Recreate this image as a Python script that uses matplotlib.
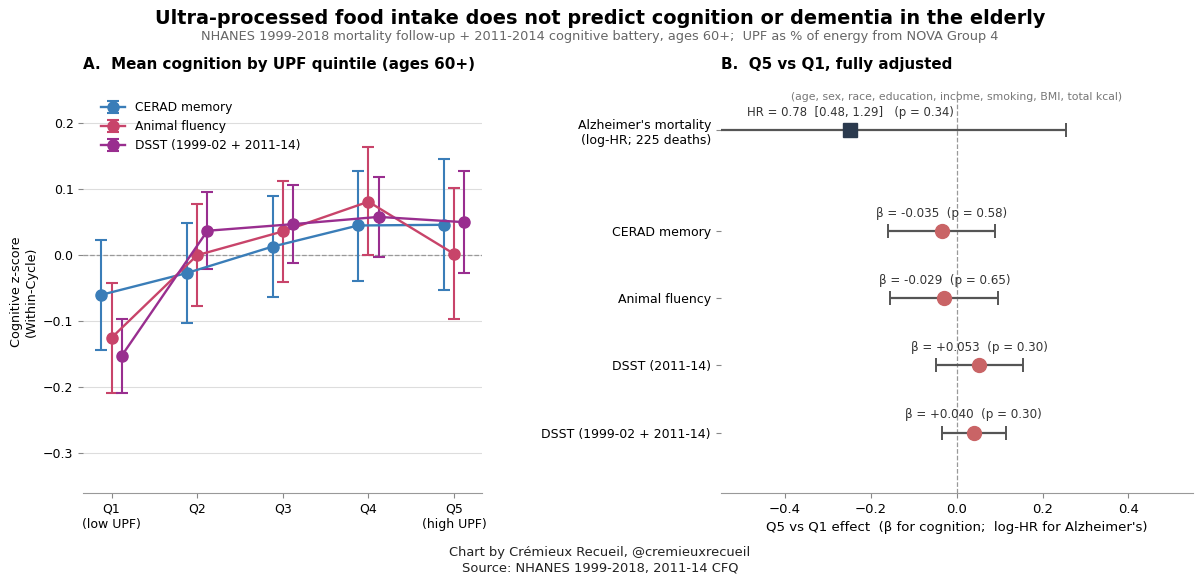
import numpy as np
import matplotlib
matplotlib.use('Agg')
import matplotlib.pyplot as plt

# Panel A: mean cognition z-score by UPF quintile (mean, lower, upper)
quintiles = ['Q1\n(low UPF)', 'Q2', 'Q3', 'Q4', 'Q5\n(high UPF)']
cerad_mean = [-0.060, -0.027, 0.013, 0.045, 0.046]
cerad_lo = [-0.143, -0.102, -0.063, -0.039, -0.053]
cerad_hi = [0.023, 0.049, 0.090, 0.128, 0.146]
animal_mean = [-0.125, 0.000, 0.036, 0.081, 0.002]
animal_lo = [-0.208, -0.077, -0.041, 0.000, -0.097]
animal_hi = [-0.042, 0.077, 0.113, 0.164, 0.101]
dsst_mean = [-0.152, 0.037, 0.047, 0.058, 0.050]
dsst_lo = [-0.209, -0.021, -0.012, -0.003, -0.027]
dsst_hi = [-0.096, 0.095, 0.107, 0.119, 0.127]

# Panel B: Q5 vs Q1 effects
alz_label = "Alzheimer's mortality\n(log-HR; 225 deaths)"
alz_hr, alz_hr_lo, alz_hr_hi, alz_p = 0.78, 0.48, 1.29, 0.34
cog_labels = ['CERAD memory', 'Animal fluency', 'DSST (2011-14)', 'DSST (1999-02 + 2011-14)']
cog_beta = [-0.035, -0.029, 0.053, 0.040]
cog_lo = [-0.160, -0.155, -0.048, -0.035]
cog_hi = [0.090, 0.097, 0.154, 0.115]
cog_p = [0.58, 0.65, 0.30, 0.30]

fig = plt.figure(figsize=(12, 5.84), dpi=100)
ax1 = fig.add_axes([0.0694, 0.1558, 0.3325, 0.690])
ax2 = fig.add_axes([0.6006, 0.1558, 0.3933, 0.690])

# ---- Panel A ----
series = [
    ('CERAD memory', cerad_mean, cerad_lo, cerad_hi, '#3a7db8', -0.12),
    ('Animal fluency', animal_mean, animal_lo, animal_hi, '#c8446a', 0.0),
    ('DSST (1999-02 + 2011-14)', dsst_mean, dsst_lo, dsst_hi, '#992e8f', 0.12),
]
x = np.arange(len(quintiles))
for name, m, lo, hi, col, off in series:
    m = np.array(m)
    yerr = [m - np.array(lo), np.array(hi) - m]
    ax1.errorbar(x + off, m, yerr=yerr, color=col, marker='o', ms=8, lw=1.7,
                 elinewidth=1.5, capsize=4, capthick=1.5, label=name, zorder=3)

ax1.axhline(0, color='#999999', ls='--', lw=0.9, zorder=1)
ax1.set_ylim(-0.36, 0.25)
ax1.set_xlim(-0.33, 4.33)
ax1.set_yticks([-0.3, -0.2, -0.1, 0.0, 0.1, 0.2])
ax1.set_xticks(x)
ax1.set_xticklabels(quintiles)
ax1.grid(axis='y', color='#dddddd', lw=0.8, zorder=0)
ax1.set_axisbelow(True)
for s in ['left', 'right', 'top']:
    ax1.spines[s].set_visible(False)
ax1.spines['bottom'].set_color('#999999')
ax1.tick_params(axis='both', labelsize=9, color='#888888')
ax1.set_ylabel('Cognitive z-score\n(Within-Cycle)', fontsize=9.2)
ax1.set_title('A.  Mean cognition by UPF quintile (ages 60+)', loc='left',
              fontsize=10.9, fontweight='bold', pad=15)
ax1.legend(loc='upper left', bbox_to_anchor=(0.031, 0.985), borderaxespad=0,
           frameon=False, fontsize=8.8, handlelength=2.0)

# ---- Panel B ----
alz_y = 0
cog_y = [1.5, 2.5, 3.5, 4.5]
alz_log = np.log(alz_hr)
ax2.errorbar([alz_log], [alz_y],
             xerr=[[alz_log - np.log(alz_hr_lo)], [np.log(alz_hr_hi) - alz_log]],
             fmt='s', ms=10.5, color='#2b3a4e', ecolor='#555555', elinewidth=1.6,
             capsize=5, capthick=1.4, zorder=3)
ax2.annotate(f'HR = {alz_hr:.2f}  [{alz_hr_lo:.2f}, {alz_hr_hi:.2f}]   (p = {alz_p:.2f})',
             (alz_log, alz_y), xytext=(0, 8), textcoords='offset points',
             ha='center', va='bottom', fontsize=8.4, color='#333333')

for yy, b, lo, hi, p in zip(cog_y, cog_beta, cog_lo, cog_hi, cog_p):
    ax2.errorbar([b], [yy], xerr=[[b - lo], [hi - b]], fmt='o', ms=10,
                 color='#c96466', ecolor='#555555', elinewidth=1.6,
                 capsize=5, capthick=1.4, zorder=3)
    ax2.annotate(f'β = {b:+.3f}  (p = {p:.2f})',
                 (b, yy), xytext=(0, 8), textcoords='offset points',
                 ha='center', va='bottom', fontsize=8.6, color='#333333')

ax2.axvline(0, color='#999999', ls='--', lw=0.9, zorder=1)
ax2.set_xlim(-0.55, 0.55)
ax2.set_ylim(5.4, -0.6)
ax2.set_yticks([alz_y] + cog_y)
ax2.set_yticklabels([alz_label] + cog_labels)
ax2.set_xticks([-0.4, -0.2, 0.0, 0.2, 0.4])
for s in ['left', 'right', 'top']:
    ax2.spines[s].set_visible(False)
ax2.spines['bottom'].set_color('#999999')
ax2.tick_params(axis='both', labelsize=9, color='#888888')
ax2.tick_params(axis='x', labelsize=9.5)
ax2.set_xlabel("Q5 vs Q1 effect  (β for cognition;  log-HR for Alzheimer's)", fontsize=9.5)
ax2.set_title('B.  Q5 vs Q1, fully adjusted', loc='left',
              fontsize=10.9, fontweight='bold', pad=15)
ax2.text(0.5, 0.983, '(age, sex, race, education, income, smoking, BMI, total kcal)',
         transform=ax2.transAxes, ha='center', va='center', fontsize=7.85, color='#777777')

fig.text(0.5, 0.969, 'Ultra-processed food intake does not predict cognition or dementia in the elderly',
         ha='center', va='center', fontsize=13.9, fontweight='bold')
fig.text(0.5, 0.937, 'NHANES 1999-2018 mortality follow-up + 2011-2014 cognitive battery, ages 60+;  '
         'UPF as % of energy from NOVA Group 4',
         ha='center', va='center', fontsize=9.3, color='#666666')
fig.text(0.5, 0.041, 'Chart by Crémieux Recueil, @cremieuxrecueil\nSource: NHANES 1999-2018, 2011-14 CFQ',
         ha='center', va='center', fontsize=9.4, color='#222222')

fig.savefig('out.png', dpi=100)
